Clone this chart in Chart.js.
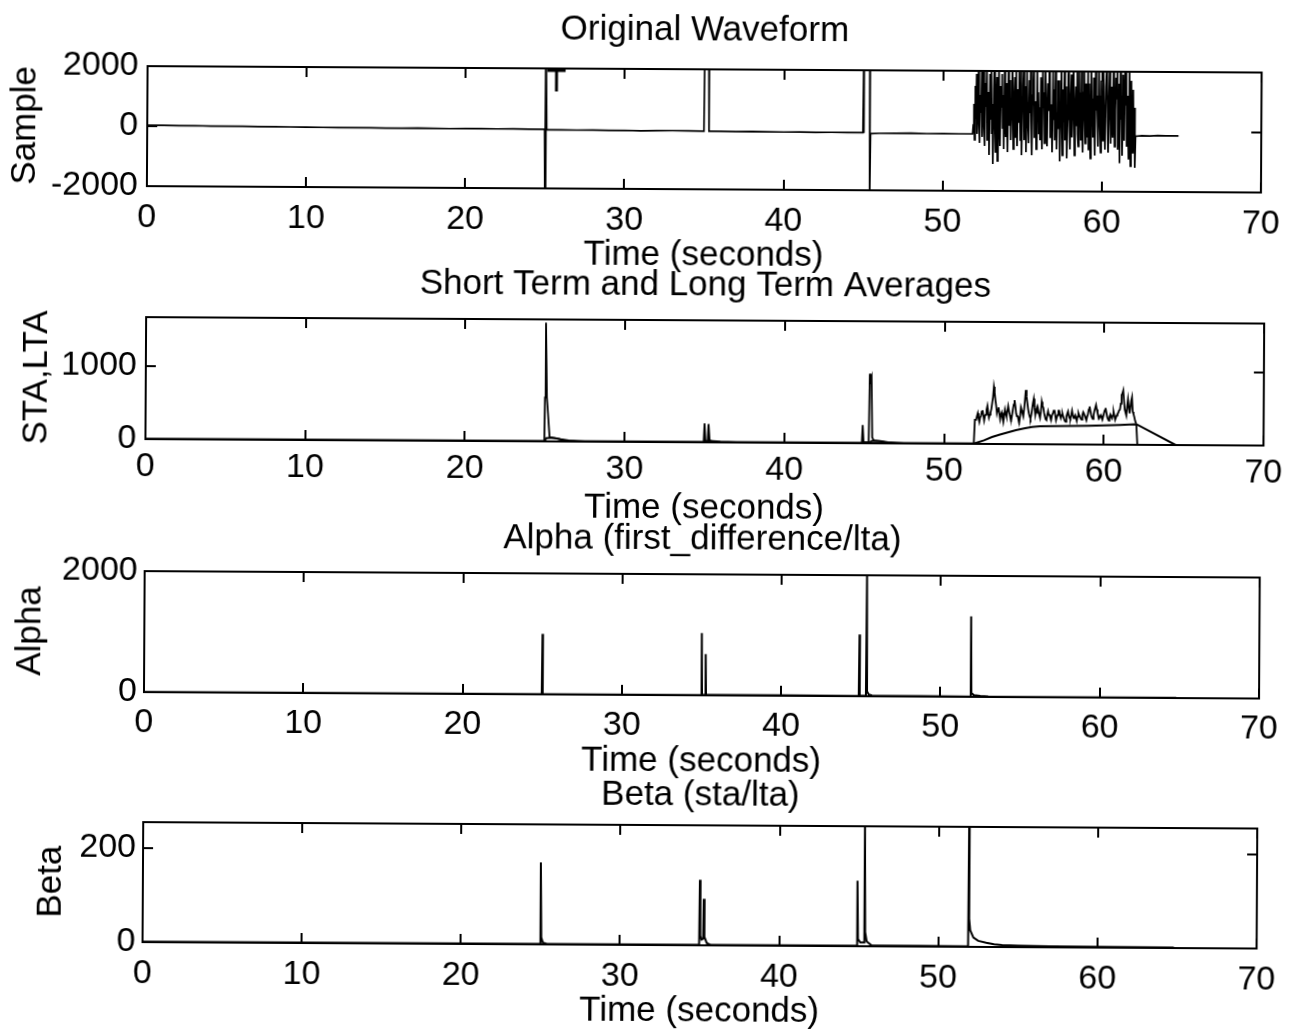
<!DOCTYPE html>
<html>
<head>
<meta charset="utf-8">
<script src="https://cdn.jsdelivr.net/npm/chart.js@4/dist/chart.umd.min.js"></script>
<style>
  html, body { margin: 0; padding: 0; background: #fff; overflow: hidden; }
  #wrap { position: relative; width: 1293px; height: 1032px; background: #fff;
          transform: rotate(0.33deg); transform-origin: 50% 50%; }
  canvas { position: absolute; left: 0; }
</style>
</head>
<body>
<div id="wrap">
  <canvas id="c0" width="1293" height="265" style="top:9px"></canvas>
  <canvas id="c1" width="1293" height="267" style="top:260px"></canvas>
  <canvas id="c2" width="1293" height="266" style="top:514px"></canvas>
  <canvas id="c3" width="1293" height="265" style="top:765px"></canvas>
</div>
<script>
// ---------------- DATA ----------------
const xTicks = [0, 10, 20, 30, 40, 50, 60, 70];

const titles = ['Original Waveform', 'Short Term and Long Term Averages', 'Alpha (first_difference/lta)', 'Beta (sta/lta)'];
const yTitles = ['Sample', 'STA,LTA', 'Alpha', 'Beta'];
const xTitle = 'Time (seconds)';

const waveYTicks = [-2000, 0, 2000];
const staYTicks = [0, 1000];
const alphaYTicks = [0, 2000];
const betaYTicks = [0, 200];

const waveRange = [-2000, 2000];
const staRange = [0, 1665];
const alphaRange = [0, 2000];
const betaRange = [0, 255];

// Original waveform: quiet part and the three glitches [time, sample]
const waveBase = [
  [0,30],[1,28],[2,20],[3,25],[4,15],[5,12],[6,10],[7,5],[8,2],[9,0],[10,-5],[11,-8],[12,-10],
  [13,-15],[14,-12],[15,-18],[16,-20],[17,-15],[18,-22],[19,-25],[20,-20],[21,-18],[22,-25],
  [23,-22],[24,-28],[24.97,-25],[25.0,-2300],[25.02,2300],[25.04,-2300],[25.06,2300],[25.1,-40],
  [26,-45],[27,-50],[28,-45],[29,-55],[30,-50],[31,-60],[32,-55],[33,-50],[34,-55],[34.98,-60],
  [35.01,2400],[35.1,2600],[35.2,2500],[35.27,2400],[35.3,-60],[36,-65],[37,-70],[38,-60],
  [39,-70],[40,-75],[41,-70],[42,-80],[43,-75],[44,-80],[44.97,-80],[45.0,2400],[45.02,-90],
  [45.04,2400],[45.2,2600],[45.35,2500],[45.38,2400],[45.41,-2400],[45.45,-110],[46,-100],
  [47,-95],[48,-90],[49,-100],[50,-95],[51,-100],[51.86,-100]
];
// Event noise, sampled every 0.04 s from 51.9 s
const waveNoiseStart = 51.9;
const waveNoiseStep = 0.04;
const waveNoise = [
  200,900,-300,1500,400,1900,-100,700,2100,300,-400,1200,600,2000,-200,
  1100,2200,100,-500,1600,800,2300,-300,500,1300,-800,1900,400,2100,-100,
  900,-1100,1400,2400,200,-700,1000,1800,-1000,600,2200,300,-500,1500,800,
  1900,100,1200,-600,2300,700,-200,1600,400,-700,2100,1000,200,1700,-300,
  600,2300,1100,-600,900,1800,-200,2200,500,-500,1400,300,2000,800,-300,
  2000,-800,700,1500,2300,-300,400,1500,-700,2100,900,100,-400,1700,600,
  2200,300,-800,1200,1700,2400,-200,600,1000,-600,2300,500,1300,-100,800,
  -300,1800,400,-600,2200,800,1300,-400,2100,1200,200,-500,1600,700,2200,
  2300,-200,900,500,-700,2000,400,1400,-300,2200,1100,-600,600,1700,100,
  1700,-1000,800,2300,600,-800,1400,300,2100,-300,800,1500,-900,400,1900,
  2200,300,-600,1100,1900,-200,700,2300,1000,-800,500,1500,200,2000,-100,
  -500,2100,700,1300,-300,2400,300,-700,1300,2000,600,-400,1600,900,-200,
  2200,-600,1600,400,-900,2300,500,1100,-200,1800,300,-800,2100,700,1200,
  400,-500,2300,1200,100,-700,1700,600,-300,2200,900,300,-600,1500,2000,
  1900,300,-700,1000,2300,900,-400,1500,500,-200,2100,1100,-500,700,1800,
  1100,2300,-600,800,1600,-1050,2200,400,1200,-800,1900,600,-300,2100,900,
  2300,-500,1200,400,-900,2100,600,-1150,1700,200,-700,1400,-200,800,-1200
];
const waveTail = [[62.1,-150],[62.5,-130],[63,-140],[63.5,-120],[64,-130],[64.8,-130]];

// Short term average
const staBase = [
  [0,5],[24.97,5],[25.0,600],[25.04,1620],[25.12,600],[25.3,60],[25.5,50],[25.8,40],[26.2,15],
  [27,5],[34.95,5],[35.0,260],[35.06,20],[35.2,20],[35.25,250],[35.32,25],[35.6,5],[44.85,5],
  [44.9,250],[44.96,15],[45.28,20],[45.33,950],[45.38,850],[45.44,900],[45.5,80],[45.6,40],
  [46,30],[46.5,10],[47,5],[51.86,5],[51.92,330]
];
// sampled every 0.05 s from 52.0 s
const staNoiseStart = 52.0;
const staNoiseStep = 0.05;
const staNoise = [
  330,380,420,350,300,360,380,440,460,390,
  320,380,400,470,520,430,360,400,430,480,
  560,640,780,700,600,520,420,470,500,420,
  340,400,430,360,300,380,470,420,380,450,
  520,460,400,350,330,400,480,540,600,520,
  420,380,380,330,300,380,500,460,420,380,
  480,600,740,650,560,480,420,380,350,400,
  480,560,620,500,400,460,500,430,450,400,
  360,450,580,520,500,430,380,340,330,400,
  450,400,400,360,340,400,420,460,470,400,
  330,370,400,460,460,400,360,400,420,380,
  350,320,310,380,420,450,390,360,350,400,
  460,400,360,380,400,360,320,380,430,400,
  380,350,340,400,440,420,390,360,330,380,
  420,480,520,460,400,370,350,400,460,500,
  540,480,430,400,360,380,400,370,340,380,
  430,470,500,440,380,350,330,380,410,380,
  360,400,450,400,340,370,400,420,440,470,
  480,560,680,700,740,600,480,440,400,520,
  620,520,430,500,600,650,450,420,380,330
];
const staTail = [[62.03,280],[62.1,0],[64.8,0]];

// Long term average
const lta = [
  [0,2],[24.98,2],[25.1,45],[25.5,50],[26,30],[26.5,15],[27.5,5],[35,5],[35.3,20],[36,10],
  [37,4],[45.3,5],[45.5,35],[46,30],[46.6,12],[47.5,5],[51.86,3],[52.5,50],[53,95],[53.5,130],
  [54,160],[54.5,190],[55,215],[55.5,235],[56,245],[57,250],[58,252],[59,255],[60,262],
  [61,270],[61.9,280],[62.1,275],[64.5,0]
];

// Alpha (first difference / lta)
const alpha = [
  [0,5],[24.97,5],[25.0,1000],[25.03,8],[34.97,5],[35.0,1030],[35.03,10],[35.22,10],[35.25,680],
  [35.28,12],[44.87,6],[44.9,1020],[44.93,12],[45.32,10],[45.35,2000],[45.39,80],[45.5,30],
  [45.7,12],[51.87,6],[51.9,1330],[51.94,60],[52.1,30],[52.5,15],[53,10],[55,6],[64.8,5]
];

// Beta (sta / lta)
const beta = [
  [0,1],[24.97,1],[25.0,174],[25.05,15],[25.15,4],[25.4,1],[34.97,1],[35.0,139],[35.04,20],
  [35.12,12],[35.22,14],[35.25,99],[35.3,18],[35.45,5],[35.7,1],[44.87,1],[44.9,139],[44.95,15],
  [45.1,8],[45.32,8],[45.35,270],[45.4,30],[45.5,10],[45.8,2],[51.87,1],[51.9,270],[51.93,60],
  [52.0,35],[52.2,20],[52.5,13],[53.0,9],[53.5,6],[54,4],[55,3],[57,2],[64.8,1]
];

// Trigger mark on the waveform
const markText = 'T';
const markTime = 25.7;
const markValue = 2000;

// ---------------- BUILD ----------------
const FONT = '"Liberation Sans", Arial, Helvetica, sans-serif';
Chart.defaults.font.family = FONT;
Chart.defaults.color = '#000';

const pts = arr => arr.map(p => ({x: p[0], y: p[1]}));
const sampled = (start, step, vals) => vals.map((v, i) => ({x: +(start + i * step).toFixed(3), y: v}));

const waveData = [...pts(waveBase), ...sampled(waveNoiseStart, waveNoiseStep, waveNoise), ...pts(waveTail)];
const staData = [...pts(staBase), ...sampled(staNoiseStart, staNoiseStep, staNoise), ...pts(staTail)];

const TICK_LEN = 10;
const boxTicks = {
  id: 'boxTicks',
  afterDatasetsDraw(chart) {
    const {ctx, chartArea: a, scales: {x, y}} = chart;
    ctx.save();
    ctx.strokeStyle = '#000';
    ctx.lineWidth = 2;
    ctx.strokeRect(a.left, a.top, a.right - a.left, a.bottom - a.top);
    ctx.beginPath();
    x.ticks.forEach(t => {
      const px = Math.round(x.getPixelForValue(t.value));
      ctx.moveTo(px, a.bottom); ctx.lineTo(px, a.bottom - TICK_LEN);
      ctx.moveTo(px, a.top); ctx.lineTo(px, a.top + TICK_LEN);
    });
    y.ticks.forEach(t => {
      const py = Math.round(y.getPixelForValue(t.value));
      ctx.moveTo(a.left, py); ctx.lineTo(a.left + TICK_LEN, py);
      ctx.moveTo(a.right, py); ctx.lineTo(a.right - TICK_LEN, py);
    });
    ctx.stroke();
    const m = chart.options.plugins.boxTicks && chart.options.plugins.boxTicks.mark;
    if (m) {
      ctx.fillStyle = '#000';
      ctx.font = '32px ' + FONT;
      ctx.textAlign = 'center';
      ctx.textBaseline = 'top';
      ctx.fillText(m.text, x.getPixelForValue(m.x), y.getPixelForValue(m.y) - 2);
    }
    ctx.restore();
  }
};

function makeChart(id, idx, datasets, range, yTicks, yAxisWidth, yTickPad, yTitlePad, titlePad, xTickPad, mark) {
  return new Chart(document.getElementById(id), {
    type: 'line',
    data: {datasets},
    plugins: [boxTicks],
    options: {
      responsive: false,
      animation: false,
      devicePixelRatio: 1,
      layout: {padding: {left: 0, right: 26, top: 0, bottom: 0}},
      elements: {point: {radius: 0}, line: {tension: 0, borderWidth: 2, borderColor: '#000'}},
      plugins: {
        legend: {display: false},
        tooltip: {enabled: false},
        title: {display: true, fullSize: false, text: titles[idx], color: '#000',
                font: {size: 35, lineHeight: 1, weight: 'normal'},
                padding: {top: titlePad, bottom: 25 - titlePad}},
        boxTicks: {mark}
      },
      scales: {
        x: {
          type: 'linear', min: 0, max: 70,
          grid: {display: false, drawTicks: false}, border: {display: false},
          afterBuildTicks: s => { s.ticks = xTicks.map(v => ({value: v})); },
          afterFit: s => { s.height = 85; },
          ticks: {font: {size: 34, lineHeight: 1}, padding: xTickPad, color: '#000', maxRotation: 0, autoSkip: false,
                  callback: v => String(v)},
          title: {display: true, text: xTitle, color: '#000', font: {size: 35, lineHeight: 1},
                  padding: {top: 0, bottom: 1}}
        },
        y: {
          type: 'linear', min: range[0], max: range[1],
          grid: {display: false, drawTicks: false}, border: {display: false},
          afterBuildTicks: s => { s.ticks = yTicks.map(v => ({value: v})); },
          afterFit: s => { s.width = yAxisWidth; },
          ticks: {font: {size: 34, lineHeight: 1}, padding: yTickPad, color: '#000', autoSkip: false,
                  callback: v => String(v)},
          title: {display: true, text: yTitles[idx], color: '#000', font: {size: 35, lineHeight: 1},
                  padding: {top: yTitlePad, bottom: 0}}
        }
      }
    }
  });
}

const ds = (data, w) => ({data, borderColor: '#000', borderWidth: w, pointRadius: 0, clip: 0, fill: false});

makeChart('c0', 0, [ds(waveData, 1.7)], waveRange, waveYTicks, 145, 9, 6, 3.5, 15,
          {text: markText, x: markTime, y: markValue});
makeChart('c1', 1, [ds(staData, 1.8), ds(pts(lta), 2)], staRange, staYTicks, 145, 9, 19, 7.5, 11, null);
makeChart('c2', 2, [ds(pts(alpha), 2)], alphaRange, alphaYTicks, 145, 7, 14, 7.5, 14, null);
makeChart('c3', 3, [ds(pts(beta), 2)], betaRange, betaYTicks, 145, 7, 36, 12.5, 15, null);
</script>
</body>
</html>
